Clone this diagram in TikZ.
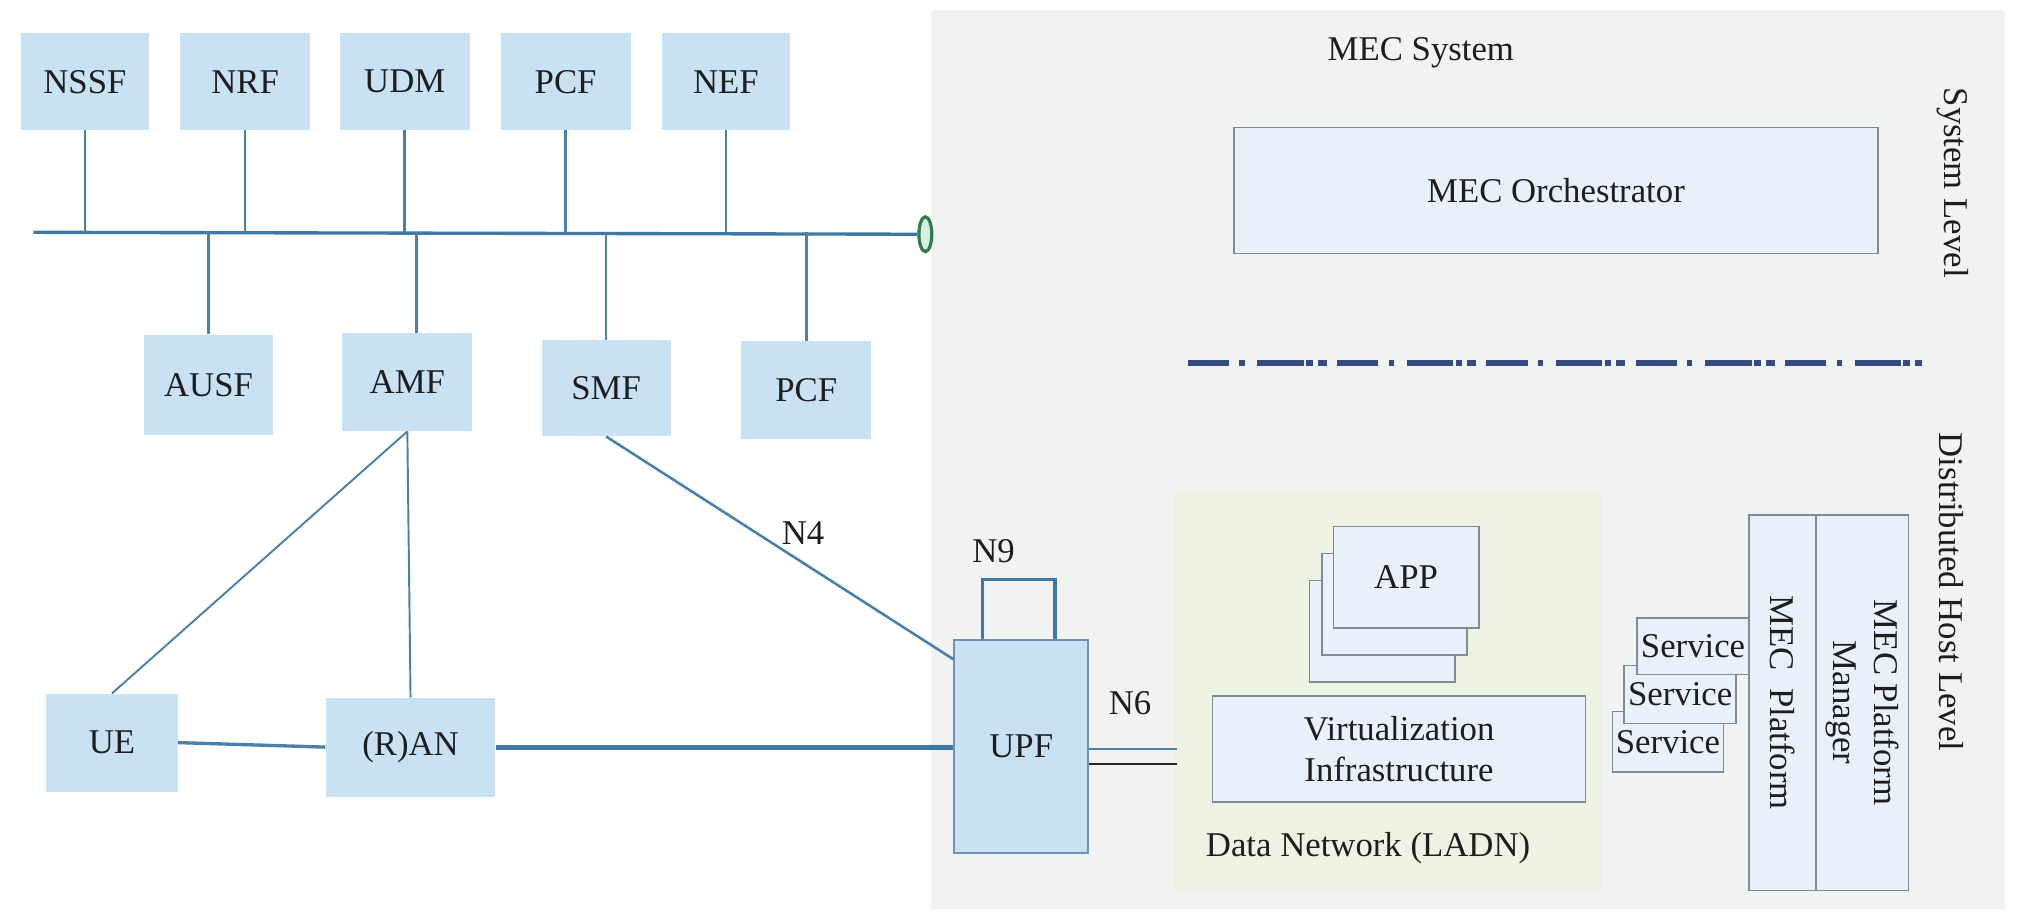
\documentclass[tikz,border=0pt]{standalone}
\usepackage{fontspec}
\setmainfont{Liberation Serif}
\newfontfamily\diagfont{Liberation Serif}
\usetikzlibrary{calc,shapes.geometric}
\definecolor{nfblue}{HTML}{C8E1F3}
\definecolor{linkblue}{HTML}{4A80AA}
\definecolor{busblue}{HTML}{3F78A4}
\definecolor{panelgray}{HTML}{F1F2F2}
\definecolor{mecfill}{HTML}{E8F1FA}
\definecolor{mecdraw}{HTML}{7F8C96}
\definecolor{ladnfill}{HTML}{EEF2E2}
\definecolor{navy}{HTML}{344A80}
\definecolor{txt}{HTML}{1E1E1E}
\definecolor{termgreen}{HTML}{2F7D4A}
\definecolor{termfill}{HTML}{D8EFE3}
\definecolor{upfdraw}{HTML}{6F94B3}
\begin{document}
\begin{tikzpicture}[x=1pt,y=-1pt,
  every node/.style={text=txt, font=\diagfont\fontsize{27pt}{32pt}\selectfont},
  nf/.style={fill=nfblue, draw=none, inner sep=0pt},
  mec/.style={fill=mecfill, draw=mecdraw, line width=1.2pt, inner sep=0pt},
  link/.style={draw=linkblue, line width=2pt},
  thinlink/.style={draw=linkblue, line width=1.5pt},
  buslink/.style={draw=busblue, line width=2.6pt},
  lbl/.style={inner sep=0pt}
]
% canvas
\fill[white] (0,0) rectangle (1568,716.5);
\useasboundingbox (0,0) rectangle (1568,716.5);
% MEC panel
\fill[panelgray] (723,8) rectangle (1558,706);
\fill[ladnfill] (912,381) rectangle (1245,692);

% top NFs
\node[nf, minimum width=100pt, minimum height=75pt] (nssf) at (66,63.5) {NSSF};
\node[nf, minimum width=101pt, minimum height=75pt] (nrf) at (190.5,63.5) {NRF};
\node[nf, minimum width=101pt, minimum height=75pt] (udm) at (314.5,63.5) {UDM};
\node[nf, minimum width=101pt, minimum height=75pt] (pcfa) at (439.5,63.5) {PCF};
\node[nf, minimum width=100pt, minimum height=75pt] (nef) at (564,63.5) {NEF};
% lower NFs
\node[nf, minimum width=100pt, minimum height=78pt] (ausf) at (162,299) {AUSF};
\node[nf, minimum width=101pt, minimum height=76pt] (amf) at (316.5,297) {AMF};
\node[nf, minimum width=100pt, minimum height=75pt] (smf) at (471,301.5) {SMF};
\node[nf, minimum width=101pt, minimum height=76pt] (pcfb) at (626.5,303) {PCF};
% access
\node[nf, minimum width=102pt, minimum height=76pt] (ue) at (87,577) {UE};
\node[nf, minimum width=132pt, minimum height=77pt] (ran) at (319,580.5) {(R)AN};
\node[fill=nfblue, draw=upfdraw, line width=1.5pt, minimum width=104pt, minimum height=166pt, inner sep=0pt] (upf) at (793.5,580) {UPF};

% service bus
\coordinate (busL) at (26,180.5);
\node[ellipse, draw=termgreen, fill=termfill, line width=2.5pt, minimum width=10pt, minimum height=27pt, inner sep=0pt] (term) at (719,182) {};
\draw[buslink] (busL) -- (term.west);
\foreach \n in {nssf,nrf,udm,pcfa,nef}{
  \draw[link] (\n.south) -- (\n.south |- busL);
}
\foreach \n in {ausf,smf,pcfb}{
  \draw[link] (\n.north) -- (\n.north |- busL);
}
\draw[link] ([xshift=7pt]amf.north) -- ([xshift=7pt]amf.north |- busL);

% access connectors
\draw[thinlink] (amf.south) -- (ue.north);
\draw[thinlink] (amf.south) -- (ran.north);
\draw[draw=linkblue, line width=2.6pt] (ue.east) -- (ran.west);
\draw[draw=busblue, line width=4pt] (ran.east) -- (ran.east -| upf.west);
\draw[link] (smf.south) -- ($(upf.north west)+(0,16)$) coordinate (n4end);
\node[lbl] (n4) at (624,414) {N4};
% N9 loop
\draw[draw=busblue, line width=3pt] ($(upf.north west)+(22.6,0)$) -- ++(0,-46) -| ($(upf.north west)+(78.8,0)$);
\node[lbl] (n9) at (772,428) {N9};
% N6
\coordinate (n6a) at (914.5,582);
\coordinate (n6b) at (914.5,593.5);
\draw[draw=linkblue, line width=2pt] (upf.east |- n6a) -- (n6a);
\draw[draw=black!85, line width=2pt] (upf.east |- n6b) -- (n6b);
\node[lbl] (n6) at (878,546) {N6};

% MEC system level
\node[lbl] (mecsys) at (1104,41) {MEC System};
\node[mec, minimum width=500pt, minimum height=98pt] (orch) at (1209,148) {MEC Orchestrator};
\node[lbl, rotate=-90] (syslvl) at (1517,142) {System Level};
\coordinate (sepL) at (923,282);
\coordinate (sepR) at (1493,282);
\draw[draw=navy, line width=4pt, dash pattern=on 32pt off 8pt on 4pt off 10pt on 36pt off 2pt on 5pt off 4pt on 7pt off 8pt] (sepL) -- (sepR);
\node[lbl, rotate=-90] (hostlvl) at (1516,460) {Distributed Host Level};

% LADN content
\node[mec, minimum width=113pt, minimum height=79pt] (app3) at (1074,490.5) {};
\node[mec, minimum width=113pt, minimum height=79pt] (app2) at (1083.5,469.5) {};
\node[mec, minimum width=113pt, minimum height=79pt] (app1) at (1092.5,448.5) {APP};
\node[mec, minimum width=290pt, minimum height=82pt, align=center] (virt) at (1087,582) {Virtualization\\Infrastructure};
\node[lbl] (dn) at (1063,659) {Data Network (LADN)};

% services and platform
\node[mec, minimum width=86pt, minimum height=47pt] (svc3) at (1296,576.5) {Service};
\node[mec, minimum width=87pt, minimum height=45pt] (svc2) at (1305.5,539.5) {Service};
\node[mec, minimum width=87pt, minimum height=44pt] (svc1) at (1315.5,502) {Service};
\node[mec, rotate=-90, minimum width=292pt, minimum height=52pt] (mecp) at (1385,546) {MEC\ \ Platform};
\node[mec, rotate=-90, minimum width=292pt, minimum height=72pt, align=center] (mecpm) at (1447,546) {MEC Platform\\Manager};
\end{tikzpicture}
\end{document}
